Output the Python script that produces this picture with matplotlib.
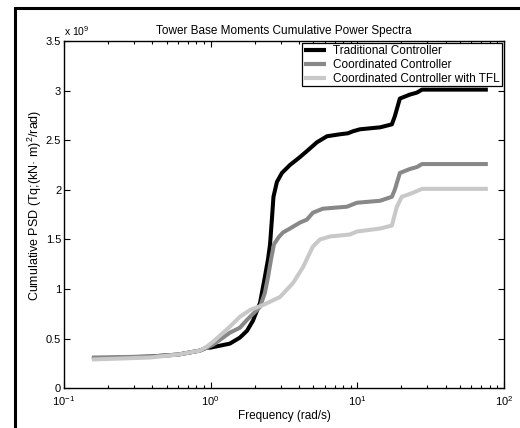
import matplotlib
matplotlib.use("Agg")
import matplotlib.pyplot as plt
from matplotlib.patches import Rectangle
from matplotlib.ticker import LogLocator, FixedLocator

plt.rcParams['font.family'] = ['Liberation Sans', 'DejaVu Sans']
plt.rcParams['mathtext.fontset'] = 'custom'
plt.rcParams['mathtext.rm'] = 'Liberation Sans'
plt.rcParams['mathtext.it'] = 'Liberation Sans'

# ---- data (values in units of 1e9) ----
freq_trad = [0.155, 0.386, 0.60, 0.845, 0.94, 1.0, 1.35, 1.58, 1.77, 1.94, 2.17, 2.34,
             2.46, 2.54, 2.62, 2.68, 2.83, 3.06, 3.47, 4.06, 4.61, 5.31, 6.21, 7.61,
             8.63, 9.33, 10.4, 14.3, 17.2, 18.0, 19.5, 22.8, 25.5, 27.6, 77.6]
psd_trad = [0.30, 0.32, 0.34, 0.38, 0.41, 0.41, 0.45, 0.51, 0.58, 0.68, 0.86, 1.12,
            1.30, 1.45, 1.72, 1.93, 2.08, 2.17, 2.25, 2.33, 2.40, 2.48, 2.54, 2.56,
            2.57, 2.59, 2.61, 2.63, 2.66, 2.74, 2.92, 2.96, 2.98, 3.01, 3.01]

freq_coord = [0.155, 0.386, 0.60, 0.845, 0.94, 1.04, 1.35, 1.58, 1.77, 2.17, 2.34, 2.46,
              2.58, 2.70, 2.90, 3.11, 3.47, 4.06, 4.53, 4.98, 5.82, 8.49, 9.94, 14.3,
              17.2, 18.0, 19.5, 22.8, 25.5, 27.6, 77.6]
psd_coord = [0.31, 0.32, 0.34, 0.38, 0.41, 0.44, 0.56, 0.61, 0.69, 0.82, 0.96, 1.12,
             1.30, 1.45, 1.52, 1.57, 1.61, 1.67, 1.70, 1.77, 1.81, 1.83, 1.87, 1.89,
             1.93, 2.00, 2.17, 2.21, 2.23, 2.26, 2.26]

freq_tfl = [0.155, 0.386, 0.60, 0.845, 0.94, 1.04, 1.35, 1.58, 1.86, 2.28, 2.97, 3.64,
            4.26, 4.98, 5.56, 6.51, 7.61, 8.91, 9.94, 14.3, 17.2, 18.6, 20.1, 23.9,
            27.6, 77.6]
psd_tfl = [0.29, 0.31, 0.34, 0.38, 0.42, 0.47, 0.62, 0.72, 0.79, 0.84, 0.92, 1.06,
           1.22, 1.43, 1.50, 1.53, 1.54, 1.55, 1.58, 1.61, 1.64, 1.83, 1.93, 1.97,
           2.01, 2.01]

series_labels = ['Traditional Controller', 'Coordinated Controller',
                 'Coordinated Controller with TFL']
series_colors = ['#000000', '#888888', '#c8c8c8']

yticks = [0, 0.5, 1, 1.5, 2, 2.5, 3, 3.5]
ytick_labels = ['0', '0.5', '1', '1.5', '2', '2.5', '3', '3.5']

title = 'Tower Base Moments Cumulative Power Spectra'
xlabel = 'Frequency (rad/s)'
ylabel = 'Cumulative PSD (Tq;(kN\u00b7 m)$^{2}$/rad)'

# ---- figure ----
fig = plt.figure(figsize=(5.2, 4.28), dpi=100)
ax = fig.add_axes([64/520, 1 - 388.3/428, (504-64)/520, (388.3-41)/428])

lw = 2.9
for fx, fy, c, lab in [(freq_trad, psd_trad, series_colors[0], series_labels[0]),
                       (freq_coord, psd_coord, series_colors[1], series_labels[1]),
                       (freq_tfl, psd_tfl, series_colors[2], series_labels[2])]:
    ax.plot(fx, fy, color=c, lw=lw, label=lab,
            solid_joinstyle='round', solid_capstyle='butt')

ax.set_xscale('log')
ax.set_xlim(0.1, 100)
ax.set_ylim(0, 3.5)
ax.yaxis.set_major_locator(FixedLocator(yticks))
ax.set_yticklabels(ytick_labels)
ax.xaxis.set_major_locator(LogLocator(base=10, numticks=10))
ax.xaxis.set_minor_locator(LogLocator(base=10, subs=range(2, 10), numticks=10))

ax.tick_params(which='both', direction='in', top=True, right=True, labelsize=8,
               width=0.8, colors='black')
ax.tick_params(which='major', length=4)
ax.tick_params(which='minor', length=2.2)
ax.tick_params(axis='x', pad=4)
ax.tick_params(axis='y', pad=2)
for s in ax.spines.values():
    s.set_linewidth(1.0)

ax.set_title(title, fontsize=8.5, pad=5)
ax.set_xlabel(xlabel, fontsize=8.5, labelpad=2)
ax.set_ylabel(ylabel, fontsize=9, labelpad=0)
ax.yaxis.set_label_coords(-0.045, 0.528)

ax.text(0.0, 1.008, 'x 10$^{9}$', transform=ax.transAxes, fontsize=7.5,
        ha='left', va='bottom')

leg = ax.legend(loc='upper right', fontsize=8.5, frameon=True, fancybox=False,
                edgecolor='black', framealpha=1, borderpad=0.15, labelspacing=0.15,
                handlelength=1.9, handletextpad=0.6, borderaxespad=0.2)
leg.get_frame().set_linewidth(0.9)
for h in leg.get_lines():
    h.set_linewidth(3.0)

# figure border (only top and left visible, as in the cropped original)
fig.patches.append(Rectangle((14.5/520, -0.1), 1.2, 1.1 - 7.5/428,
                             transform=fig.transFigure, fill=False,
                             edgecolor='black', linewidth=2.2))

fig.savefig('out.png', dpi=100)
